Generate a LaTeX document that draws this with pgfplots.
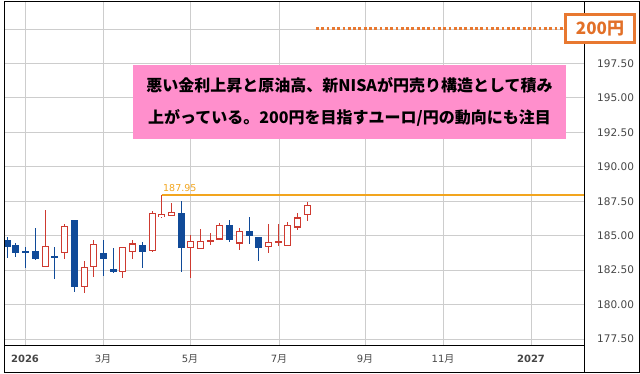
\documentclass[border=0pt]{standalone}
\usepackage{pgfplots}
\pgfplotsset{compat=1.18}
\usepackage{pgfplotstable}
\usepackage{fontspec}
\setmainfont{DejaVu Sans}
\newfontfamily\cjk{Noto Sans CJK JP}
\definecolor{cred}{RGB}{206,58,48}
\definecolor{cblue}{RGB}{16,74,152}
\definecolor{corange}{RGB}{232,120,48}
\definecolor{corangetxt}{RGB}{226,112,40}
\definecolor{cgold}{RGB}{242,165,30}
\definecolor{cpink}{RGB}{255,143,204}
\definecolor{cgrid}{RGB}{205,205,205}
\definecolor{ctick}{RGB}{70,70,70}

\pgfplotstableread{
x o h l c
7.3 184.70 184.90 183.40 184.20
16.0 184.31 184.48 183.46 183.75
25.7 183.85 184.19 182.67 183.75
35.3 183.88 185.52 183.22 183.30
54.3 183.50 184.19 181.83 183.40
74.3 186.12 186.17 180.93 181.25
103.7 183.75 184.67 182.09 183.27
113.3 182.57 184.07 182.30 182.33
142.3 184.31 184.55 182.62 183.78
181.3 186.61 187.52 182.33 184.07
229.3 185.76 186.17 184.55 184.72
249.0 185.33 186.32 184.36 184.96
258.3 184.87 184.87 183.17 184.12
}\downtab

\pgfplotstableread{
x o h l c
45.3 182.74 186.85 182.70 184.24
64.3 183.75 185.88 183.27 185.69
84.3 181.29 183.15 180.86 182.70
93.7 182.70 184.72 182.01 184.36
122.7 182.33 184.19 181.90 184.19
132.3 183.83 184.67 183.27 184.43
152.3 183.90 186.80 183.83 186.68
161.7 186.36 187.95 186.25 186.56
171.3 186.41 187.38 186.41 186.72
190.3 184.07 185.04 181.90 184.60
200.3 184.00 185.45 184.00 184.60
210.3 184.53 185.20 184.31 184.67
219.7 184.72 185.93 184.72 185.76
239.0 184.43 185.52 183.95 185.33
268.0 184.19 185.88 183.75 184.51
278.0 184.48 185.83 184.26 184.58
287.3 184.26 186.00 184.26 185.76
297.7 185.59 186.65 185.40 186.32
307.3 186.49 187.45 186.05 187.20
}\uptab

\pgfplotsset{candle/.style={draw=none, mark=none, forget plot,
  error bars/.cd, y dir=both, y explicit, error mark=none}}

\begin{document}
\begin{tikzpicture}
\begin{axis}[
  scale only axis, width=579pt, height=344pt,
  xmin=5, xmax=584, ymin=176.99, ymax=201.96,
  axis line style={black, line width=1pt},
  xtick={25,103,190,279,365,443,531},
  xticklabels={\textbf{2026}, 3{\cjk 月}, 5{\cjk 月}, 7{\cjk 月}, 9{\cjk 月}, 11{\cjk 月}, \textbf{2027}},
  ytick={177.5,180,182.5,185,187.5,190,192.5,195,197.5},
  extra y ticks={200}, extra y tick labels={},
  grid=major, grid style={cgrid, line width=0.8pt},
  major tick length=0pt,
  yticklabel pos=right,
  /pgf/number format/assume math mode=true,
  yticklabel style={/pgf/number format/fixed, /pgf/number format/fixed zerofill, /pgf/number format/precision=2,
     anchor=west, inner sep=0pt, xshift=13pt, font=\fontsize{10.5}{12}\selectfont, text=ctick},
  xticklabel style={anchor=center, yshift=-13pt, font=\fontsize{10}{12}\selectfont, text=ctick},
]
% reference line 187.95
\addplot[cgold, line width=1.2pt] coordinates {(161.7,187.95) (584,187.95)};
% target 200
\addplot[corange, line width=3pt, dash pattern=on 2.8pt off 2.5pt] coordinates {(316,200) (564,200)};

% down candles
\addplot[candle, error bar style={draw=cblue, line width=1pt}]
  table[x=x, y expr={(\thisrow{h}+\thisrow{l})/2}, y error expr={(\thisrow{h}-\thisrow{l})/2}] {\downtab};
\addplot[candle, error bar style={draw=cblue, line width=7pt}]
  table[x=x, y expr={(\thisrow{o}+\thisrow{c})/2}, y error expr={max(abs(\thisrow{o}-\thisrow{c})/2,0.06)}] {\downtab};

% up candles
\addplot[candle, error bar style={draw=cred, line width=1pt}]
  table[x=x, y expr={(\thisrow{h}+\thisrow{l})/2}, y error expr={(\thisrow{h}-\thisrow{l})/2}] {\uptab};
\addplot[candle, error bar style={draw=cred, line width=7pt}]
  table[x=x, y expr={(\thisrow{o}+\thisrow{c})/2}, y error expr={max(abs(\thisrow{o}-\thisrow{c})/2,0.07)}] {\uptab};
\addplot[candle, error bar style={draw=white, line width=5pt}]
  table[x=x, y expr={(\thisrow{o}+\thisrow{c})/2}, y error expr={max(abs(\thisrow{o}-\thisrow{c})/2-0.075,0)}] {\uptab};

\node[anchor=south west, inner sep=0pt, xshift=1.3pt, yshift=3pt, text=cgold, font=\fontsize{9.5}{11}\selectfont] at (axis cs:161.7,187.95) {187.95};

\node[fill=cpink, minimum width=433pt, minimum height=74pt, inner sep=0pt, align=center,
  font=\cjk\bfseries\fontsize{16}{32}\selectfont] at (axis cs:349.5,194.68)
  {悪い金利上昇と原油高、新NISAが円売り構造として積み\\上がっている。200円を目指すユーロ/円の動向にも注目};

\coordinate (b200) at (axis cs:600,200);
\end{axis}
\draw[line width=1pt] (0pt,-27pt) rectangle (634pt,344pt);
\draw[line width=1pt] (579pt,-27pt) -- (579pt,0pt);
\node[draw=corange, line width=3pt, fill=white, minimum width=69pt, minimum height=28pt, inner sep=0pt,
  text=corangetxt, font=\cjk\bfseries\fontsize{17}{20}\selectfont] at (b200) {200円};
\pgfresetboundingbox
\path[use as bounding box] (-5pt,-28pt) rectangle (635pt,346pt);
\end{tikzpicture}
\end{document}
